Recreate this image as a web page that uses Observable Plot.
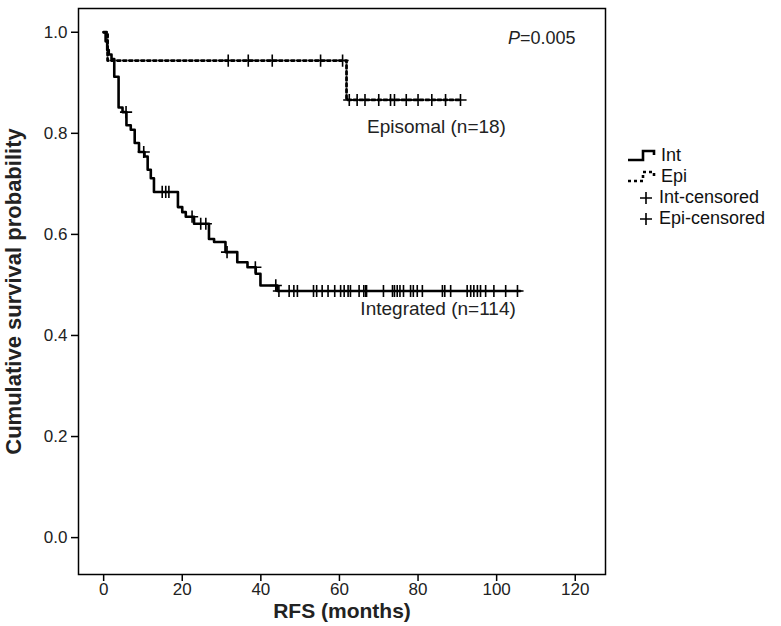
<!DOCTYPE html>
<html><head><meta charset="utf-8">
<script src="https://cdn.jsdelivr.net/npm/d3@7"></script>
<script src="https://cdn.jsdelivr.net/npm/@observablehq/plot@0.6"></script>
<style>
body{margin:0;background:#fff;font-family:"Liberation Sans",Arial,sans-serif;}
#wrap{position:relative;width:781px;height:626px;}
#legend{position:absolute;left:627px;top:145px;font-size:18px;color:#111;}
.li{height:21px;display:flex;align-items:center;white-space:nowrap;}
.li svg{flex:none;}
</style></head><body><div id="wrap"><div id="legend"></div></div>
<script>
// Integrated (n=114): step vertices (time in months, survival after the drop)
const intTimes = [0, 0.5, 0.9, 1.3, 2.0, 2.7, 3.8, 4.8, 5.8, 6.9, 7.9, 9.0, 10.4, 11.2, 12.0, 12.8, 18.9, 20.0, 20.9, 23.0, 26.8, 28.1, 31.0, 34.0, 36.6, 38.7, 39.9, 44.2, 106];
const intSurv  = [1.0, 0.982, 0.965, 0.956, 0.947, 0.912, 0.851, 0.842, 0.816, 0.807, 0.781, 0.763, 0.754, 0.728, 0.711, 0.684, 0.654, 0.644, 0.635, 0.621, 0.591, 0.585, 0.565, 0.545, 0.535, 0.522, 0.499, 0.488, 0.488];
const intCensor = [5.7, 10.2, 14.9, 15.8, 16.6, 22.5, 24.7, 26.0, 31.4, 38.6, 43.8, 44.6, 47.2, 48.4, 49.3, 53.4, 54.2, 55.6, 57.1, 58.8, 60.3, 61.2, 62.2, 62.8, 65.0, 66.2, 66.7, 66.9, 71.2, 73.5, 74.0, 74.7, 75.4, 76.3, 78.1, 78.8, 79.8, 81.1, 86.2, 86.8, 88.3, 92.5, 93.4, 94.2, 95.1, 95.9, 97.2, 99.3, 102.3, 105.3];
// Episomal (n=18)
const epiTimes = [0, 1.0, 61.8, 90.8];
const epiSurv  = [1.0, 0.944, 0.866, 0.866];
const epiCensor = [31.7, 36.8, 42.9, 55.2, 60.8, 62.5, 64.5, 66.5, 70.0, 73.0, 74.0, 77.0, 80.0, 83.5, 87.0, 90.8];
// axes
const xTicks = [0, 20, 40, 60, 80, 100, 120];
const yTicks = [0.0, 0.2, 0.4, 0.6, 0.8, 1.0];
const xTitle = "RFS (months)";
const yTitle = "Cumulative survival probability";
// annotations
const annText = ["Episomal (n=18)", "Integrated (n=114)"];
const annT = [84.7, 85.1];
const annS = [0.812, 0.453];
const pText = "P=0.005";
// legend
const legendLabels = ["Int", "Epi", "Int-censored", "Epi-censored"];

const step = (times, surv) => t => { let v = surv[0]; for (let i = 0; i < times.length; i++) if (times[i] <= t) v = surv[i]; return v; };
const intF = step(intTimes, intSurv), epiF = step(epiTimes, epiSurv);
const intLine = intTimes.map((t, i) => ({t, s: intSurv[i]}));
const epiLine = epiTimes.map((t, i) => ({t, s: epiSurv[i]}));
const intC = intCensor.map(t => ({t, s: intF(t)}));
const epiC = epiCensor.map(t => ({t, s: epiF(t)}));
const ann = annText.map((text, i) => ({text, t: annT[i], s: annS[i]}));

const chart = Plot.plot({
  width: 781, height: 626,
  marginLeft: 78, marginRight: 176, marginTop: 8, marginBottom: 52,
  style: {fontFamily: '"Liberation Sans", Arial, sans-serif', fontSize: "17px", color: "#222", background: "#fff"},
  x: {domain: [-6.4, 127.7]},
  y: {domain: [-0.073, 1.047]},
  marks: [
    Plot.frame({stroke: "#000", strokeWidth: 1.5}),
    Plot.axisX({ticks: xTicks, tickSize: 7, tickPadding: 1, tickFormat: d => d, label: null, stroke: "#000", strokeWidth: 1.5}),
    Plot.axisY({ticks: yTicks, tickSize: 7, tickPadding: 4, tickFormat: d3.format(".1f"), label: null, stroke: "#000", strokeWidth: 1.5}),
    Plot.line(epiLine, {x: "t", y: "s", curve: "step-after", stroke: "#000", strokeWidth: 2.8, strokeDasharray: "3,3"}),
    Plot.line(intLine, {x: "t", y: "s", curve: "step-after", stroke: "#000", strokeWidth: 2.6}),
    Plot.dot(intC, {x: "t", y: "s", symbol: "plus", r: 4, stroke: "#000", strokeWidth: 1.6}),
    Plot.dot(epiC, {x: "t", y: "s", symbol: "plus", r: 4, stroke: "#000", strokeWidth: 1.6}),
    Plot.text(ann, {x: "t", y: "s", text: "text", fontSize: 19, fill: "#222", letterSpacing: "0.5px"}),
    Plot.text([pText], {frameAnchor: "top-right", lineAnchor: "middle", textAnchor: "end", dx: -30, dy: 30, fontSize: 18, fill: "#222", className: "pval"}),
    Plot.text([yTitle], {frameAnchor: "left", textAnchor: "middle", lineAnchor: "middle", rotate: -90, dx: -65, fontSize: 22, fontWeight: "bold", fill: "#222", letterSpacing: "0.8px"}),
    Plot.text([xTitle], {frameAnchor: "bottom", textAnchor: "middle", lineAnchor: "middle", dy: 37, fontSize: 21, fontWeight: "bold", fill: "#222", letterSpacing: "0.3px"})
  ]
});
document.getElementById("wrap").prepend(chart);
chart.style.display = "block";
// italic P
d3.select(chart).selectAll(".pval text").each(function() {
  const el = d3.select(this); const txt = el.text(); el.text("");
  el.append("tspan").attr("font-style", "italic").text(txt[0]);
  el.append("tspan").text(txt.slice(1));
});
// legend
const lg = d3.select("#legend");
legendLabels.forEach((lab, i) => {
  const row = lg.append("div").attr("class", "li");
  const svg = row.append("svg").attr("width", 33).attr("height", 21);
  if (i < 2) {
    svg.append("path").attr("d", "M1,15 H16 V6 H27 V10").attr("fill", "none").attr("stroke", "#000")
      .attr("stroke-width", 2.6).attr("stroke-dasharray", i === 1 ? "3,3" : null);
  } else {
    svg.append("path").attr("d", "M13,11 H25 M19,5 V17").attr("stroke", "#000").attr("stroke-width", 1.6);
  }
  row.append("span").text(lab).style("margin-left", i < 2 ? "1px" : "-1px");
});
</script></body></html>
